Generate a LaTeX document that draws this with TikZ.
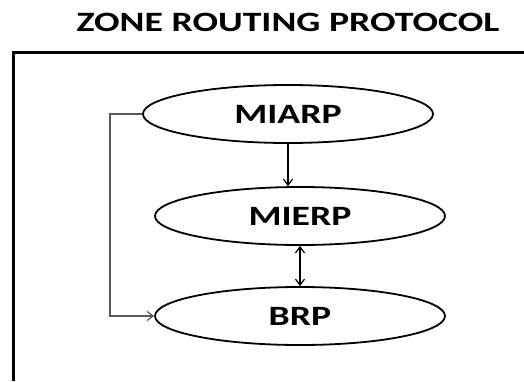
\documentclass[tikz,border=0pt]{standalone}
\usepackage{fontspec}
\setmainfont{Carlito}
\usetikzlibrary{shapes.geometric,arrows.meta}

\newcommand{\wide}[1]{\scalebox{1.35}[1]{#1}}

\tikzset{
    proto/.style={draw, ellipse, line width=1.8pt, minimum width=290pt, minimum height=58pt, inner sep=0pt, font=\fontsize{28}{32}\selectfont\bfseries},
    link/.style={line width=1.2pt, -{Straight Barb[length=6pt,width=9pt]}}
}

\begin{document}
\begin{tikzpicture}[x=1pt,y=-1pt]
    \useasboundingbox (0,0) rectangle (524,381);

    \node (title) at (288,22) {\fontsize{28}{32}\selectfont\bfseries\wide{ZONE ROUTING PROTOCOL}};
    \coordinate (tl) at (13,52); \coordinate (tr) at (524,52); \coordinate (bl) at (13,381);
    \draw[line width=3pt] (tr)--(tl)--(bl);

    \node[proto] (miarp) at (288,114) {\wide{MIARP}};
    \node[proto] (mierp) at (300,216) {\wide{MIERP}};
    \node[proto] (brp) at (300,316) {\wide{BRP}};

    \coordinate (corner1) at (110,114); \coordinate (corner2) at (110,316);

    \draw[link] (miarp.south) -- (mierp.north -| miarp.south);
    \draw[link, {Straight Barb[length=6pt,width=9pt]}-{Straight Barb[length=6pt,width=9pt]}] (mierp.south) -- (brp.north);
    \draw[link, gray!70!black] (miarp.west) -- (corner1) -- (corner2) -- (brp.west);
\end{tikzpicture}
\end{document}
